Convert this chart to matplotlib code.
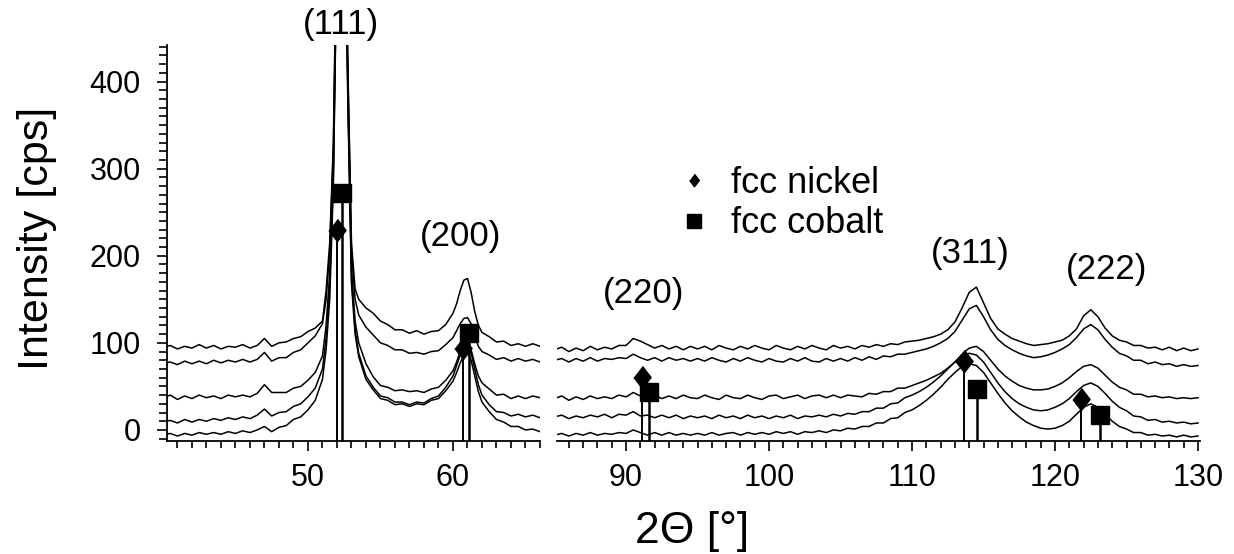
import matplotlib
matplotlib.use("Agg")
import matplotlib.pyplot as plt
from matplotlib.lines import Line2D
from matplotlib.ticker import MultipleLocator, FixedLocator

plt.rcParams['font.family'] = ['Liberation Sans', 'DejaVu Sans']

# ---------------- data ----------------
left_x = [40, 40.5, 41, 41.5, 42, 42.5, 43, 43.5, 44, 44.5,
          45, 45.5, 46, 46.5, 47, 47.5, 48, 48.5, 49, 49.5,
          50, 50.5, 51,
          51.25, 51.5, 51.75, 52, 52.25, 52.5, 52.75, 53, 53.25, 53.5,
          54, 54.5, 55, 55.5, 56, 56.5, 57, 57.5, 58, 58.5, 59, 59.5, 60,
          60.25, 60.5, 60.75, 61, 61.25, 61.5, 61.75, 62,
          62.5, 63, 63.5, 64, 64.5, 65, 65.5, 66]

scan1_left = [95, 97, 93, 96, 94, 98, 94, 97, 93, 96,
              95, 98, 94, 97, 105, 96, 100, 101, 105, 107,
              113, 117, 125,
              160, 215, 330, 600, 800, 700, 420, 215, 162, 150,
              140, 134, 125, 121, 115, 115, 111, 114, 110, 113, 114, 121, 134,
              145, 160, 172, 174, 158, 136, 120, 112,
              107, 101, 102, 97, 99, 96, 99, 96]
scan2_left = [76, 78, 75, 79, 76, 79, 76, 80, 77, 80,
              78, 81, 78, 81, 89, 79, 83, 83, 89, 92,
              100, 108, 122,
              150, 205, 320, 590, 790, 690, 410, 205, 150, 132,
              118, 109, 100, 97, 92, 92, 88, 89, 87, 90, 91, 98, 106,
              114, 122, 128, 129, 122, 108, 96, 90,
              86, 81, 83, 79, 82, 79, 81, 78]
scan3_left = [37, 40, 35, 39, 36, 40, 37, 39, 36, 40,
              38, 40, 38, 42, 52, 43, 43, 43, 48, 50,
              57, 66, 85,
              120, 180, 300, 570, 780, 680, 395, 185, 125, 100,
              76, 61, 51, 49, 45, 46, 44, 45, 43, 47, 49, 57, 68,
              78, 90, 98, 100, 92, 76, 62, 54,
              47, 40, 41, 36, 39, 36, 39, 37]
scan4_left = [9, 11, 8, 12, 9, 12, 10, 13, 11, 14,
              12, 15, 13, 17, 24, 16, 20, 21, 27, 30,
              38, 48, 70,
              105, 165, 290, 560, 770, 670, 385, 175, 115, 88,
              62, 49, 39, 37, 32, 32, 29, 32, 31, 36, 39, 49, 62,
              74, 86, 95, 97, 88, 70, 52, 40,
              29, 21, 20, 16, 18, 15, 17, 14]
scan5_left = [-6, -4, -7, -4, -6, -3, -5, -3, -5, -2,
              -4, -1, -3, 0, 4, -2, 3, 5, 12, 15,
              23, 34, 58,
              92, 150, 280, 550, 760, 660, 375, 168, 110, 84,
              58, 46, 36, 34, 29, 30, 27, 30, 29, 34, 36, 45, 56,
              66, 77, 86, 89, 80, 62, 44, 32,
              21, 12, 9, 4, 4, 0, 1, -2]

right_x = [85, 85.5, 86, 86.5, 87, 87.5, 88, 88.5, 89, 89.5,
           90, 90.5, 91, 91.5, 92, 92.5, 93, 93.5, 94, 94.5,
           95, 95.5, 96, 96.5, 97, 97.5, 98, 98.5, 99, 99.5,
           100, 100.5, 101, 101.5, 102, 102.5, 103, 103.5, 104, 104.5,
           105, 105.5, 106, 106.5, 107, 107.5, 108, 108.5, 109, 109.5,
           110, 110.5, 111, 111.5, 112, 112.5, 113, 113.5, 114, 114.5,
           115, 115.5, 116, 116.5, 117, 117.5, 118, 118.5, 119, 119.5,
           120, 120.5, 121, 121.5, 122, 122.5, 123, 123.5, 124, 124.5,
           125, 125.5, 126, 126.5, 127, 127.5, 128, 128.5, 129, 129.5,
           130]

scan1_right = [92, 95, 90, 94, 91, 96, 92, 95, 93, 97,
               97, 105, 102, 98, 94, 97, 93, 96, 92, 96,
               93, 96, 92, 97, 94, 92, 96, 93, 97, 94,
               92, 97, 94, 92, 96, 93, 97, 94, 92, 97,
               94, 96, 93, 97, 95, 98, 96, 99, 98, 101,
               102, 103, 105, 107, 110, 115, 124, 140, 158, 164,
               146, 128, 116, 110, 105, 102, 99, 97, 98, 99,
               101, 103, 108, 116, 131, 138, 130, 117, 108, 103,
               101, 97, 97, 94, 95, 92, 95, 91, 94, 91,
               93]
scan2_right = [80, 82, 78, 82, 79, 83, 79, 82, 81, 83,
               82, 87, 83, 80, 83, 79, 83, 80, 82, 79,
               82, 79, 83, 80, 78, 82, 79, 83, 80, 78,
               82, 79, 78, 82, 79, 83, 79, 78, 82, 79,
               82, 79, 83, 80, 84, 81, 85, 84, 87, 87,
               89, 91, 93, 96, 100, 105, 113, 126, 139, 143,
               130, 115, 104, 97, 92, 88, 85, 83, 84, 86,
               89, 93, 98, 106, 116, 121, 115, 104, 95, 88,
               85, 80, 80, 76, 78, 75, 76, 73, 75, 73,
               74]
scan3_right = [36, 39, 34, 38, 35, 39, 36, 38, 36, 40,
               38, 43, 39, 37, 40, 36, 39, 36, 40, 37,
               36, 40, 37, 35, 40, 37, 36, 40, 37, 35,
               39, 40, 36, 38, 40, 36, 39, 40, 37, 40,
               37, 40, 39, 38, 42, 41, 44, 44, 48, 48,
               51, 54, 57, 61, 65, 71, 78, 87, 94, 96,
               90, 80, 70, 62, 56, 51, 48, 46, 46, 47,
               50, 54, 60, 67, 73, 75, 71, 63, 55, 49,
               46, 41, 41, 38, 39, 37, 38, 36, 37, 36,
               37]
scan4_right = [15, 17, 13, 16, 14, 17, 15, 18, 14, 18,
               17, 21, 16, 17, 14, 17, 14, 17, 13, 16,
               14, 16, 13, 17, 14, 16, 13, 17, 14, 16,
               13, 16, 14, 17, 13, 16, 15, 17, 15, 18,
               16, 19, 18, 21, 21, 25, 25, 30, 31, 37,
               40, 44, 49, 55, 62, 70, 78, 85, 88, 86,
               78, 66, 54, 44, 36, 30, 26, 23, 22, 23,
               26, 30, 36, 44, 51, 54, 50, 42, 33, 26,
               22, 16, 15, 11, 12, 9, 10, 8, 9, 7,
               8]
scan5_right = [-6, -4, -7, -4, -6, -3, -6, -4, -5, -3,
               -4, 0, -3, -6, -3, -6, -3, -6, -4, -6,
               -4, -6, -3, -6, -4, -3, -6, -3, -5, -3,
               -5, -2, -4, -2, -5, -2, -3, -1, -3, 0,
               -1, 2, 1, 4, 4, 8, 8, 13, 14, 20,
               23, 28, 34, 41, 49, 58, 66, 73, 76, 74,
               66, 54, 42, 31, 22, 15, 9, 5, 2, 1,
               2, 5, 10, 18, 26, 30, 26, 18, 10, 4,
               1, -3, -3, -6, -5, -7, -6, -8, -6, -8,
               -7]

left_scans = [scan1_left, scan2_left, scan3_left, scan4_left, scan5_left]
right_scans = [scan1_right, scan2_right, scan3_right, scan4_right, scan5_right]

# reference patterns (stick position, relative height)
ni_pos_left, ni_int_left = [52.0, 60.7], [230, 94]
co_pos_left, co_int_left = [52.35, 61.1], [272, 111]
ni_pos_right, ni_int_right = [91.1, 113.65, 121.85], [61, 79, 35]
co_pos_right, co_int_right = [91.6, 114.55, 123.15], [44, 47, 17]

hkl_left = ['(111)', '(200)']
hkl_left_pos = [(52.3, 466), (60.5, 222)]
hkl_right = ['(220)', '(311)', '(222)']
hkl_right_pos = [(91.2, 157), (114.1, 203), (123.6, 184)]

legend_labels = ['fcc nickel', 'fcc cobalt']

# ---------------- figure ----------------
W, H = 1234, 554
fig = plt.figure(figsize=(W / 100, H / 100), dpi=100)
ax1 = fig.add_axes([167 / W, 113 / H, 373 / W, 396 / H])
ax2 = fig.add_axes([557 / W, 113 / H, 643 / W, 396 / H])

YMIN, YMAX = -12.7, 442
diamond = [(0, 1), (0.77, 0), (0, -1), (-0.77, 0)]

for ax, xs, scans, nip, nii, cop, coi in (
        (ax1, left_x, left_scans, ni_pos_left, ni_int_left, co_pos_left, co_int_left),
        (ax2, right_x, right_scans, ni_pos_right, ni_int_right, co_pos_right, co_int_right)):
    for s in scans:
        ax.plot(xs, s, color='black', lw=1.1)
    ax.vlines(nip, YMIN, nii, color='black', lw=1.4)
    ax.vlines(cop, YMIN, coi, color='black', lw=1.8)
    ax.plot(nip, nii, ls='none', marker=diamond, ms=16, color='black')
    ax.plot(cop, coi, ls='none', marker='s', ms=13, color='black')
    ax.set_ylim(YMIN, YMAX)
    for sp in ('top', 'right'):
        ax.spines[sp].set_visible(False)
    ax.spines['bottom'].set_linewidth(1.3)
    ax.spines['left'].set_linewidth(1.3)
    ax.tick_params(axis='x', which='major', direction='out', length=7, width=1.2,
                   labelsize=22, pad=9)
    ax.tick_params(axis='x', which='minor', direction='out', length=5, width=1.2)
    ax.xaxis.set_minor_locator(MultipleLocator(1))

ax1.set_xlim(40.28, 66.0)
ax1.xaxis.set_major_locator(FixedLocator([50, 60]))
ax1.yaxis.set_major_locator(FixedLocator([0, 100, 200, 300, 400]))
ax1.yaxis.set_minor_locator(MultipleLocator(10))
ax1.tick_params(axis='y', which='major', direction='out', length=7, width=1.2,
                labelsize=22, pad=12)
ax1.tick_params(axis='y', which='minor', direction='out', length=6, width=1.2)

ax2.set_xlim(85.17, 130.14)
ax2.xaxis.set_major_locator(FixedLocator([90, 100, 110, 120, 130]))
ax2.spines['left'].set_visible(False)
ax2.tick_params(axis='y', which='both', left=False, labelleft=False)

for t, (x, y) in zip(hkl_left, hkl_left_pos):
    ax1.text(x, y, t, fontsize=25, ha='center', va='center', clip_on=False)
for t, (x, y) in zip(hkl_right, hkl_right_pos):
    ax2.text(x, y, t, fontsize=25, ha='center', va='center', clip_on=False)

handles = [Line2D([], [], ls='none', marker=diamond, ms=9, color='black'),
           Line2D([], [], ls='none', marker='s', ms=9.5, color='black')]
ax2.legend(handles, legend_labels, loc='upper left',
           bbox_to_anchor=(680 / W, 1 - 166 / H), bbox_transform=fig.transFigure,
           frameon=False, fontsize=26, handlelength=0.8, handletextpad=0.6,
           labelspacing=0.15, borderpad=0, borderaxespad=0)

fig.text(37 / W, 1 - 238 / H, 'Intensity [cps]', rotation=90, fontsize=31,
         ha='center', va='center')
fig.text(692 / W, 11 / H, '2\u0398 [\u00b0]', fontsize=32, ha='center', va='baseline')

fig.savefig('out.png', dpi=100)
